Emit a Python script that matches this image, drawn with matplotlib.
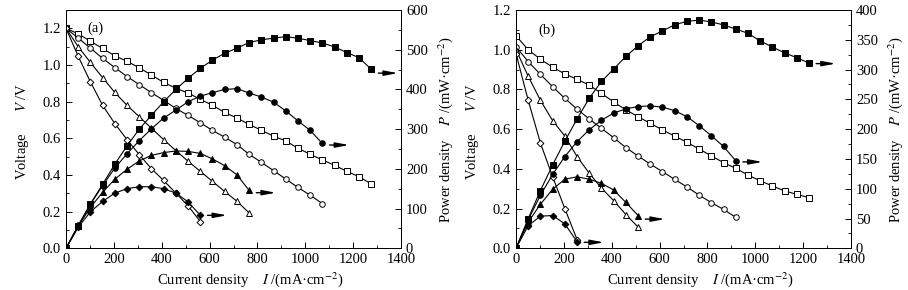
import matplotlib
matplotlib.use("Agg")
import matplotlib.pyplot as plt
from matplotlib.ticker import MultipleLocator, FormatStrFormatter

plt.rcParams["font.family"] = ["Liberation Serif", "DejaVu Serif"]
plt.rcParams["mathtext.fontset"] = "stix"
plt.rcParams["font.size"] = 10

# current density points (mA/cm2), shared by every curve
current = [0, 51, 102, 153, 204, 255, 306, 357, 408, 459, 510, 561, 612,
           663, 714, 765, 816, 867, 918, 969, 1020, 1071, 1122, 1173, 1224, 1275]

# panel (a): voltage (V) and power density (mW/cm2)
va_sq = [1.20, 1.17, 1.13, 1.09, 1.05, 1.02, 0.985, 0.945, 0.905, 0.873, 0.847, 0.813, 0.780,
         0.741, 0.711, 0.676, 0.644, 0.612, 0.586, 0.546, 0.513, 0.482, 0.453, 0.420, 0.391, 0.351]
pa_sq = [0, 56, 112, 161, 212, 258, 300, 335, 369, 400, 428, 453, 474,
         491, 504, 518, 525, 529, 533, 529, 523, 517, 507, 493, 480, 451]
va_ci = [1.20, 1.147, 1.092, 1.036, 0.986, 0.937, 0.893, 0.849, 0.807, 0.763, 0.725,
         0.685, 0.643, 0.606, 0.566, 0.513, 0.469, 0.424, 0.378, 0.332, 0.290, 0.244]
pa_ci = [0, 58, 111, 158, 202, 238, 271, 301, 328, 348, 369,
         383, 392, 400, 402, 391, 381, 368, 346, 321, 297, 264]
va_tr = [1.20, 1.10, 1.014, 0.931, 0.850, 0.780, 0.718, 0.655, 0.593, 0.533, 0.475,
         0.420, 0.365, 0.310, 0.257, 0.193]
pa_tr = [0, 56, 103, 141, 174, 199, 220, 234, 241, 245, 244, 239, 225, 208, 185, 146]
va_di = [1.20, 1.047, 0.908, 0.780, 0.680, 0.593, 0.511, 0.434, 0.370, 0.301, 0.232, 0.146]
pa_di = [0, 53, 92, 118, 139, 150, 155, 155, 150, 139, 117, 83]

# panel (b)
vb_sq = [1.07, 1.00, 0.952, 0.912, 0.878, 0.851, 0.822, 0.780, 0.737, 0.697, 0.663, 0.629,
         0.596, 0.565, 0.534, 0.500, 0.466, 0.431, 0.403, 0.369, 0.340, 0.314, 0.289, 0.272, 0.255]
pb_sq = [0, 50, 97, 140, 180, 217, 252, 280, 301, 322, 340, 355,
         365, 375, 381, 383, 380, 375, 368, 361, 348, 338, 328, 320, 311]
vb_ci = [1.015, 0.940, 0.876, 0.814, 0.755, 0.701, 0.651, 0.604, 0.557, 0.507,
         0.465, 0.424, 0.386, 0.347, 0.309, 0.268, 0.230, 0.196, 0.156]
pb_ci = [0, 48, 89, 124, 154, 179, 199, 215, 227, 234, 238, 239, 237, 231, 221, 206, 189, 171, 147]
vb_tr = [1.0, 0.866, 0.745, 0.643, 0.565, 0.462, 0.378, 0.303, 0.240, 0.170, 0.107]
pb_tr = [0, 44, 74, 99, 116, 120, 116, 109, 98, 77, 55]
vb_di = [0.98, 0.745, 0.53, 0.36, 0.20, 0.044]
pb_di = [0, 38, 54, 55, 41, 11]

markers = ["s", "o", "^", "D"]
msizes = [4.2, 4.0, 4.4, 3.4]

panels = [
    dict(volt=[va_sq, va_ci, va_tr, va_di], power=[pa_sq, pa_ci, pa_tr, pa_di],
         arrow_dy=[-10, -4, -6, 0], vtop=1.3, ptop=600, pmajor=100, pminor=50,
         tag="(a)", tag_xy=(90, 1.2), left=0.0727),
    dict(volt=[vb_sq, vb_ci, vb_tr, vb_di], power=[pb_sq, pb_ci, pb_tr, pb_di],
         arrow_dy=[-1, -2, -6, -1], vtop=1.2, ptop=400, pmajor=50, pminor=25,
         tag="(b)", tag_xy=(95, 1.10), left=0.5683),
]

fig = plt.figure(figsize=(9.08, 2.90), dpi=100)

for p in panels:
    ax = fig.add_axes([p["left"], 0.1438, 0.369, 0.8217])
    ax2 = ax.twinx()

    for v, m, ms in zip(p["volt"], markers, msizes):
        ax.plot(current[:len(v)], v, color="black", lw=0.8, marker=m, ms=ms,
                mfc="white", mec="black", mew=0.7)
    for pw, m, ms, dy in zip(p["power"], markers, msizes, p["arrow_dy"]):
        x = current[:len(pw)]
        ax2.plot(x, pw, color="black", lw=0.8, marker=m, ms=ms,
                 mfc="black", mec="black", mew=0.7)
        ax2.annotate("", xy=(x[-1] + 112, pw[-1] + dy), xytext=(x[-1] + 30, pw[-1] + dy),
                     arrowprops=dict(arrowstyle="-|>,head_length=0.8,head_width=0.15",
                                     color="black", lw=1.0, shrinkA=0, shrinkB=0))

    ax.set_xlim(0, 1400)
    ax.xaxis.set_major_locator(MultipleLocator(200))
    ax.xaxis.set_minor_locator(MultipleLocator(100))
    ax.yaxis.set_major_locator(MultipleLocator(0.2))
    ax.yaxis.set_minor_locator(MultipleLocator(0.1))
    ax.yaxis.set_major_formatter(FormatStrFormatter("%.1f"))
    ax.set_ylim(0, p["vtop"])
    ax2.set_ylim(0, p["ptop"])
    ax2.yaxis.set_major_locator(MultipleLocator(p["pmajor"]))
    ax2.yaxis.set_minor_locator(MultipleLocator(p["pminor"]))

    ax.tick_params(which="both", direction="in", top=False, right=False, labelsize=10.5)
    ax.tick_params(which="major", length=4, width=0.7)
    ax.tick_params(which="minor", length=2, width=0.6)
    ax2.tick_params(which="both", direction="in", labelsize=10.5)
    ax2.tick_params(which="major", length=4, width=0.7)
    ax2.tick_params(which="minor", length=2, width=0.6)
    for s in ax.spines.values():
        s.set_linewidth(0.7)
    for s in ax2.spines.values():
        s.set_linewidth(0.7)

    ax.set_xlabel("Current density    $I$ /(mA·cm$^{-2}$)", fontsize=10.5)
    ax.set_ylabel("Voltage      $V$ /V", fontsize=10.5)
    ax2.set_ylabel("Power density    $P$ /(mW·cm$^{-2}$)", fontsize=10.5)
    ax.xaxis.set_label_coords(0.55, -0.09)
    ax.yaxis.set_label_coords(-0.105, 0.49)
    ax2.yaxis.set_label_coords(1.105, 0.496)

    ax.text(p["tag_xy"][0], p["tag_xy"][1], p["tag"], fontsize=10.5, va="center")

fig.savefig("out.png", dpi=100)
